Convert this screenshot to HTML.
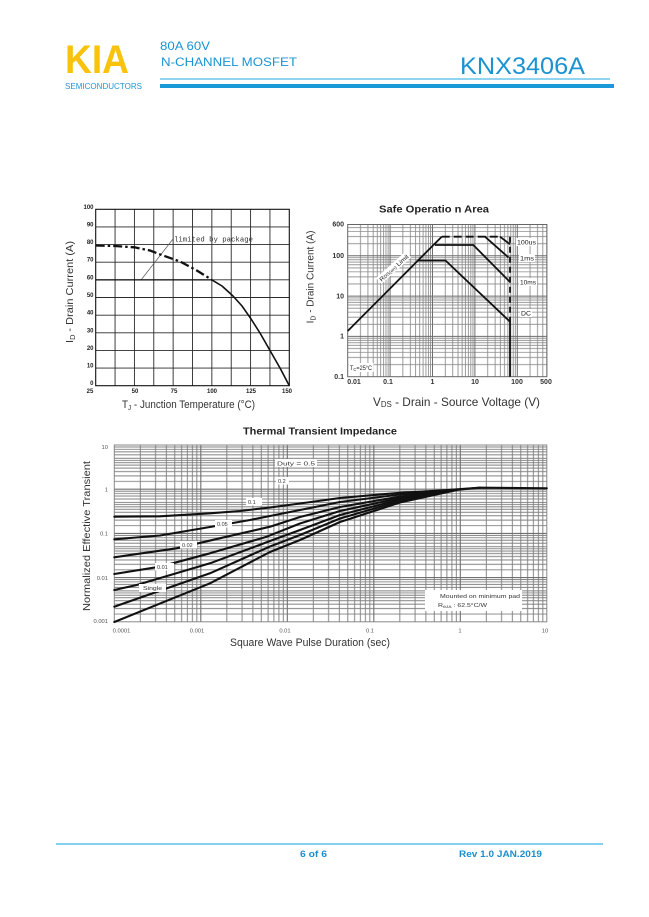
<!DOCTYPE html>
<html><head><meta charset="utf-8"><style>
html,body{margin:0;padding:0;background:#fff;}
svg{display:block;}
text{font-family:"Liberation Sans",Arial,sans-serif;}
.ser{font-family:"Liberation Serif",serif;font-weight:bold;}
.mono{font-family:"Liberation Mono",monospace;}
</style></head><body>
<svg width="649" height="917" viewBox="0 0 649 917" xmlns="http://www.w3.org/2000/svg">
<defs>
<pattern id="p2" patternUnits="userSpaceOnUse" x="347.7" y="255.8" width="42.4" height="40.3">
<path d="M12.76,0V40.3M20.23,0V40.3M25.53,0V40.3M29.64,0V40.3M32.99,0V40.3M35.83,0V40.3M38.29,0V40.3M40.46,0V40.3M0,28.17H42.4M0,21.07H42.4M0,16.04H42.4M0,12.13H42.4M0,8.94H42.4M0,6.24H42.4M0,3.9H42.4M0,1.84H42.4" stroke="#8a8a8a" stroke-width="0.85" fill="none"/>
</pattern>
<pattern id="p3" patternUnits="userSpaceOnUse" x="114.3" y="445" width="86.5" height="44.2">
<path d="M26.04,0V44.2M41.27,0V44.2M52.08,0V44.2M60.46,0V44.2M67.31,0V44.2M73.1,0V44.2M78.12,0V44.2M82.54,0V44.2M0,36.42H86.5M0,30.89H86.5M0,26.61H86.5M0,23.11H86.5M0,20.15H86.5M0,17.59H86.5M0,15.33H86.5M0,13.3H86.5M0,9.81H86.5M0,6.85H86.5M0,4.28H86.5M0,2.02H86.5" stroke="#808080" stroke-width="0.95" fill="none"/>
</pattern>
</defs>

<!-- HEADER -->
<text x="65" y="73" font-size="40" font-weight="bold" fill="#F9C30C" textLength="64" lengthAdjust="spacingAndGlyphs">KIA</text>
<text x="65" y="89" font-size="8" fill="#2196d3" textLength="77" lengthAdjust="spacingAndGlyphs">SEMICONDUCTORS</text>
<text x="160" y="50" font-size="12" fill="#1b93d2" textLength="50" lengthAdjust="spacingAndGlyphs">80A 60V</text>
<text x="161" y="66" font-size="12" fill="#1b93d2" textLength="136" lengthAdjust="spacingAndGlyphs">N-CHANNEL MOSFET</text>
<text x="460" y="74" font-size="24" fill="#1b93d2" textLength="125" lengthAdjust="spacingAndGlyphs">KNX3406A</text>
<line x1="160" y1="79" x2="610" y2="79" stroke="#6cc5ec" stroke-width="1.5"/>
<line x1="160" y1="86" x2="614" y2="86" stroke="#1a9bd7" stroke-width="4"/>

<!-- CHART 1 -->
<g stroke="#2a2a2a" stroke-width="0.9" fill="none">
<path d="M115.06,209.3V385.7M134.42,209.3V385.7M153.78,209.3V385.7M173.14,209.3V385.7M192.5,209.3V385.7M211.86,209.3V385.7M231.22,209.3V385.7M250.58,209.3V385.7M269.94,209.3V385.7"/>
<path d="M95.7,226.94H289.3M95.7,244.58H289.3M95.7,262.22H289.3M95.7,279.86H289.3M95.7,297.5H289.3M95.7,315.14H289.3M95.7,332.78H289.3M95.7,350.42H289.3M95.7,368.06H289.3"/>
</g>
<rect x="95.7" y="209.3" width="193.6" height="176.4" fill="none" stroke="#111" stroke-width="1.1"/>
<g class="ser" font-size="6" fill="#222" text-anchor="end">
<text x="93.5" y="208.8">100</text><text x="93.5" y="226.4">90</text><text x="93.5" y="244.1">80</text><text x="93.5" y="261.7">70</text><text x="93.5" y="279.4">60</text><text x="93.5" y="297">50</text><text x="93.5" y="314.6">40</text><text x="93.5" y="332.3">30</text><text x="93.5" y="349.9">20</text><text x="93.5" y="367.6">10</text><text x="93.5" y="385">0</text>
</g>
<g class="ser" font-size="6" fill="#222" text-anchor="middle">
<text x="90" y="393">25</text><text x="135" y="393">50</text><text x="174" y="393">75</text><text x="212" y="393">100</text><text x="251" y="393">125</text><text x="287" y="393">150</text>
</g>
<line x1="141" y1="280" x2="173" y2="239" stroke="#555" stroke-width="0.7"/>
<text class="mono" x="174" y="241.5" font-size="7.4" fill="#333" textLength="79" lengthAdjust="spacingAndGlyphs">limited by package</text>
<line x1="95.7" y1="279.9" x2="212" y2="279.9" stroke="#111" stroke-width="1.2"/>
<polyline points="95.7,245.5 115,246 134.4,247.3 150,250.5 163,255.5 180,261.5 196,270 212,279.9" fill="none" stroke="#111" stroke-width="2.3" stroke-dasharray="9,3,2.5,3"/>
<polyline points="211.9,279.9 222,286 233,296 242,306 250.6,318.3 260,333 270,350.5 280,368 289.3,385.7" fill="none" stroke="#111" stroke-width="1.6" stroke-linejoin="round"/>
<text transform="translate(73,292) rotate(-90)" font-size="10.5" fill="#333" text-anchor="middle" textLength="102" lengthAdjust="spacingAndGlyphs">I<tspan font-size="7" dy="2">D</tspan><tspan dy="-2"> - Drain Current (A)</tspan></text>
<text x="122" y="408" font-size="11" fill="#333" textLength="133" lengthAdjust="spacingAndGlyphs">T<tspan font-size="7" dy="2">J</tspan><tspan dy="-2"> - Junction Temperature (°C)</tspan></text>

<!-- CHART 2 -->
<text x="434" y="212.5" font-size="10" font-weight="bold" fill="#222" text-anchor="middle" textLength="110" lengthAdjust="spacingAndGlyphs">Safe Operatio n Area</text>
<rect x="347.7" y="224.5" width="199.2" height="152.2" fill="url(#p2)"/>
<g stroke="#6e6e6e" stroke-width="1" fill="none">
<path d="M390.1,224.5V376.7M432.5,224.5V376.7M474.9,224.5V376.7M517.3,224.5V376.7M347.7,336.4H546.9M347.7,296.1H546.9M347.7,255.8H546.9"/>
</g>
<rect x="347.7" y="224.5" width="199.2" height="152.2" fill="none" stroke="#666" stroke-width="1"/>
<g font-size="7" font-weight="bold" fill="#333" text-anchor="end">
<text x="344" y="226.5">600</text><text x="344" y="258">100</text><text x="344" y="298.4">10</text><text x="344" y="338.7">1</text><text x="344" y="379">0.1</text>
</g>
<g font-size="7" font-weight="bold" fill="#333" text-anchor="middle">
<text x="354" y="384">0.01</text><text x="388" y="384">0.1</text><text x="432.5" y="384">1</text><text x="475" y="384">10</text><text x="517" y="384">100</text><text x="546" y="384">500</text>
</g>
<g fill="none" stroke="#111" stroke-width="1.8" stroke-linejoin="round">
<polyline points="347.7,331 441.7,236.7"/>
<polyline points="435,245 473.3,245 510,282"/>
<polyline points="416.7,260.5 445.5,260.5 510,321.7 510,376.7"/>
<line x1="441.7" y1="236.7" x2="501.7" y2="236.7" stroke-dasharray="8,4"/>
<line x1="485" y1="236.7" x2="508.5" y2="257.5"/>
<line x1="500" y1="236.7" x2="510" y2="244.3"/>
<line x1="510" y1="236.7" x2="510" y2="321.7" stroke-dasharray="6,4"/>
</g>
<g font-size="6.3" fill="#222">
<rect x="516" y="238" width="21" height="8" fill="#fff"/><text x="517" y="244.5" textLength="19" lengthAdjust="spacingAndGlyphs">100us</text>
<rect x="519" y="254" width="16" height="8" fill="#fff"/><text x="520" y="260.5" textLength="14" lengthAdjust="spacingAndGlyphs">1ms</text>
<rect x="519" y="278" width="18" height="8" fill="#fff"/><text x="520" y="284.5" textLength="16" lengthAdjust="spacingAndGlyphs">10ms</text>
<rect x="520" y="309" width="12" height="8" fill="#fff"/><text x="521" y="315.5" textLength="10" lengthAdjust="spacingAndGlyphs">DC</text>
</g>
<g transform="translate(394,268) rotate(-42)">
<rect x="-20" y="-4.5" width="40" height="8" fill="#fff"/>
<text x="0" y="2" font-size="6" fill="#222" text-anchor="middle" textLength="37" lengthAdjust="spacingAndGlyphs">R<tspan font-size="4.5">DS(on)</tspan> Limit</text>
</g>
<rect x="348.5" y="363" width="25" height="9" fill="#fff"/>
<text x="350" y="370" font-size="6" fill="#222" textLength="22" lengthAdjust="spacingAndGlyphs">T<tspan font-size="4.5" dy="1">C</tspan><tspan dy="-1">=25°C</tspan></text>
<text transform="translate(313.5,277) rotate(-90)" font-size="10" fill="#333" text-anchor="middle">I<tspan font-size="7" dy="2">D</tspan><tspan dy="-2"> - Drain Current (A)</tspan></text>
<text x="373" y="406" font-size="12" fill="#333" textLength="167" lengthAdjust="spacingAndGlyphs">V<tspan font-size="8" dy="1">DS</tspan><tspan dy="-1"> - Drain - Source Voltage (V)</tspan></text>

<!-- CHART 3 -->
<text x="320" y="434.5" font-size="10" font-weight="bold" fill="#222" text-anchor="middle" textLength="154" lengthAdjust="spacingAndGlyphs">Thermal Transient Impedance</text>
<rect x="114.3" y="445" width="432.5" height="176.8" fill="url(#p3)"/>
<g stroke="#707070" stroke-width="1.1" fill="none">
<path d="M200.8,445V621.8M287.3,445V621.8M373.8,445V621.8M460.3,445V621.8M114.3,489.2H546.8M114.3,533.4H546.8M114.3,577.6H546.8"/>
</g>
<rect x="114.3" y="445" width="432.5" height="176.8" fill="none" stroke="#888" stroke-width="1"/>
<g font-size="5.8" fill="#555" text-anchor="end">
<text x="108" y="449">10</text><text x="108" y="491.5">1</text><text x="108" y="535.5">0.1</text><text x="108" y="580">0.01</text><text x="108" y="623">0.001</text>
</g>
<g font-size="5.8" fill="#555" text-anchor="middle">
<text x="121.5" y="632.5">0.0001</text><text x="197" y="632.5">0.001</text><text x="285" y="632.5">0.01</text><text x="370" y="632.5">0.1</text><text x="460" y="632.5">1</text><text x="545" y="632.5">10</text>
</g>
<g fill="none" stroke="#111" stroke-width="2.1" stroke-linejoin="round" stroke-linecap="round">
<polyline points="114.3,516.7 160,516.3 210,513.3 240,511 270,507.5 300,503.5 340,498 400,492.8 440,490.5 480,487.7 546.8,488.3"/>
<polyline points="114.3,539.3 160,535.5 210,527 250,520 300,510 340,502 400,494.5 455,490 480,487.7"/>
<polyline points="114.3,557.3 176.7,548.3 226.7,536.7 270,526.7 300,517 340,507 400,496.5 455,490"/>
<polyline points="114.3,574 160,566.7 210,553.3 266.7,536.7 300,523.5 340,511 400,498 455,490"/>
<polyline points="114.3,590 136.7,585 210,563.3 270,541 300,530 340,515 400,499.5 457,490"/>
<polyline points="114.3,606.7 210,573.3 270,546.5 300,535 340,518.5 400,501 457,490"/>
<polyline points="114.3,622 210,583.3 270,552 300,540 340,522 400,502.5 457,490"/>
</g>
<g font-size="5.5" fill="#333">
<rect x="275" y="459" width="42" height="8" fill="#fff"/><text x="277" y="465.5" textLength="38" lengthAdjust="spacingAndGlyphs">Duty = 0.5</text>
<rect x="276" y="477" width="13" height="7.5" fill="#fff"/><text x="278" y="483">0.2</text>
<rect x="246" y="498" width="16" height="7.5" fill="#fff"/><text x="248" y="504">0.1</text>
<rect x="215" y="520" width="17" height="7.5" fill="#fff"/><text x="217" y="526">0.05</text>
<rect x="180" y="541" width="17" height="7.5" fill="#fff"/><text x="182" y="547">0.02</text>
<rect x="155" y="563" width="19" height="7.5" fill="#fff"/><text x="157" y="569">0.01</text>
<rect x="139" y="584" width="27" height="8" fill="#fff"/><text x="143" y="590" textLength="19" lengthAdjust="spacingAndGlyphs">Single</text>
<rect x="425" y="590" width="97" height="21" fill="#fff"/>
<text x="440" y="598" textLength="80" lengthAdjust="spacingAndGlyphs">Mounted on minimum pad</text>
<text x="438" y="607" textLength="49" lengthAdjust="spacingAndGlyphs">R<tspan font-size="4" dy="1">θJA</tspan><tspan dy="-1"> : 62.5°C/W</tspan></text>
</g>
<text transform="translate(90,536) rotate(-90)" font-size="10.5" fill="#333" text-anchor="middle" textLength="150" lengthAdjust="spacingAndGlyphs">Normalized Effective Transient</text>
<text x="310" y="646" font-size="11" fill="#333" text-anchor="middle" textLength="160" lengthAdjust="spacingAndGlyphs">Square Wave Pulse Duration (sec)</text>

<!-- FOOTER -->
<line x1="56" y1="844" x2="603" y2="844" stroke="#3bb4e5" stroke-width="1.2"/>
<text x="300" y="857" font-size="9" font-weight="bold" fill="#1a8fcf" textLength="27" lengthAdjust="spacingAndGlyphs">6 of 6</text>
<text x="459" y="857" font-size="9" font-weight="bold" fill="#1a8fcf" textLength="83" lengthAdjust="spacingAndGlyphs">Rev 1.0 JAN.2019</text>
</svg>
</body></html>
